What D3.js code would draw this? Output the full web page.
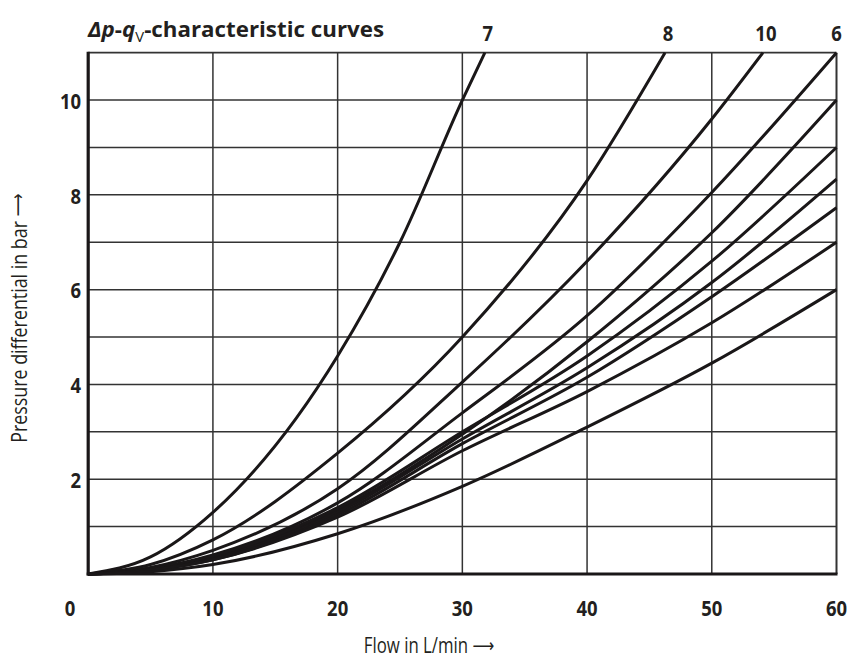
<!DOCTYPE html>
<html lang="en">
<head>
	<meta charset="UTF-8">
	<script src="https://d3js.org/d3.v7.min.js"></script>
	<title>dp-qV characteristic curves</title>
	<style>
		body { margin: 0; background: #fff; }
		svg { display: block; }
		text { fill: #231f20; }
		.tick-label { font-family: "Open Sans", sans-serif; font-weight: 700; font-size: 22px; }
		.axis-title { font-family: "Open Sans", sans-serif; font-weight: 400; font-size: 21px; }
		.arrow { font-family: "DejaVu Sans", sans-serif; font-size: 19px; }
	</style>
</head>
<body>
	<svg width="852" height="659"></svg>

	<script>
		// values: [flow L/min, pressure bar]
		const curve7 = [[0, 0], [5, 0.36], [10, 1.3], [20, 4.6], [25, 7.0], [30, 10], [31.8, 11]];
		const curve8 = [[0, 0], [5, 0.2], [10, 0.72], [20, 2.55], [30, 5.0], [40, 8.3], [46.25, 11]];
		const curve10 = [[0, 0], [5, 0.14], [10, 0.5], [20, 1.8], [30, 4.05], [40, 6.6], [50, 9.6], [54.1, 11]];
		const curve6 = [[0, 0], [5, 0.11], [10, 0.4], [20, 1.5], [30, 3.4], [40, 5.45], [50, 8.05], [60, 11]];

		// the unlabelled curves ending on the right border
		const flowSteps = [0, 5, 10, 20, 30, 40, 50, 60];
		const curveA = [0, 0.09, 0.35, 1.35, 2.95, 4.9, 7.2, 10.0];
		const curveB = [0, 0.1, 0.38, 1.4, 3.0, 4.6, 6.6, 9.0];
		const curveC = [0, 0.09, 0.33, 1.3, 2.85, 4.35, 6.15, 8.33];
		const curveD = [0, 0.08, 0.3, 1.25, 2.75, 4.15, 5.85, 7.73];
		const curveE = [0, 0.08, 0.3, 1.2, 2.6, 3.85, 5.3, 7.0];
		const curveF = [0, 0.05, 0.2, 0.85, 1.85, 3.1, 4.45, 6.0];

		const topLabels = ['7', '8', '10', '6'];
		const xTicks = [10, 20, 30, 40, 50, 60];
		const yTicks = [2, 4, 6, 8, 10];

		const svg = d3.select('svg');

		const x = d3.scaleLinear().domain([0, 60]).range([88.2, 836.5]);
		const y = d3.scaleLinear().domain([0, 11]).range([574, 52.7]);

		// grid
		const grid = svg.append('g').attr('stroke', '#333').attr('stroke-width', 1.5);
		grid.selectAll('line.v')
			.data(d3.range(10, 60, 10))
			.enter().append('line')
			.attr('x1', d => x(d)).attr('x2', d => x(d))
			.attr('y1', y(11)).attr('y2', y(0));
		grid.selectAll('line.h')
			.data(d3.range(1, 11))
			.enter().append('line')
			.attr('x1', x(0)).attr('x2', x(60))
			.attr('y1', d => y(d)).attr('y2', d => y(d));

		// frame
		svg.append('line').attr('x1', x(0)).attr('x2', x(60)).attr('y1', y(11)).attr('y2', y(11))
			.attr('stroke', '#333').attr('stroke-width', 1.8);
		svg.append('line').attr('x1', x(60)).attr('x2', x(60)).attr('y1', y(11)).attr('y2', y(0))
			.attr('stroke', '#333').attr('stroke-width', 2);

		// curves
		const line = d3.line()
			.x(d => x(d[0]))
			.y(d => y(d[1]))
			.curve(d3.curveMonotoneX);

		const right = [curveA, curveB, curveC, curveD, curveE, curveF]
			.map(vals => vals.map((v, i) => [flowSteps[i], v]));
		const labelled = [curve7, curve8, curve10, curve6];

		svg.append('g')
			.selectAll('path')
			.data(labelled.concat(right))
			.enter().append('path')
			.attr('d', line)
			.attr('fill', 'none')
			.attr('stroke', '#1a1718')
			.attr('stroke-width', 3);

		// axes lines (heavy)
		svg.append('line').attr('x1', x(0)).attr('x2', x(0)).attr('y1', y(11) - 1).attr('y2', y(0) + 1.5)
			.attr('stroke', '#1a1718').attr('stroke-width', 3.2);
		svg.append('line').attr('x1', x(0) - 1.5).attr('x2', x(60) + 1).attr('y1', y(0)).attr('y2', y(0))
			.attr('stroke', '#1a1718').attr('stroke-width', 3.2);

		// condensed bold label helper
		function label(g, px, py, txt, anchor) {
			g.append('text')
				.attr('class', 'tick-label')
				.attr('transform', `translate(${px},${py}) scale(0.84,1)`)
				.attr('text-anchor', anchor)
				.attr('dominant-baseline', 'central')
				.text(txt);
		}

		const labels = svg.append('g');
		xTicks.forEach(d => label(labels, x(d), 607, d, 'middle'));
		label(labels, 70, 607, '0', 'middle');
		yTicks.forEach(d => label(labels, 81, y(d), d, 'end'));

		// curve labels along the top
		labelled.forEach((d, i) => {
			label(labels, x(d[d.length - 1][0]) + (i === 3 ? 0 : 3), 32, topLabels[i], 'middle');
		});

		// title
		const title = svg.append('text')
			.attr('x', 88).attr('y', 37)
			.attr('textLength', 296)
			.attr('lengthAdjust', 'spacingAndGlyphs')
			.style('font-family', '"Open Sans", sans-serif')
			.style('font-weight', 700)
			.style('font-size', '21px');
		title.append('tspan').style('font-style', 'italic').text('\u0394p');
		title.append('tspan').text('-');
		title.append('tspan').style('font-style', 'italic').text('q');
		title.append('tspan').attr('dy', 5).style('font-size', '14px').style('font-weight', 400).text('V');
		title.append('tspan').attr('dy', -5).text('-characteristic curves');

		// axis titles, squeezed like a condensed face
		const xt = svg.append('text')
			.attr('class', 'axis-title')
			.attr('transform', 'translate(429,645) scale(0.8,1)')
			.attr('text-anchor', 'middle')
			.attr('dominant-baseline', 'central');
		xt.append('tspan').text('Flow in L/min ');
		xt.append('tspan').attr('class', 'arrow').text('\u27F6');

		const yt = svg.append('text')
			.attr('class', 'axis-title')
			.attr('transform', 'translate(18,318) rotate(-90) scale(0.85,1)')
			.attr('text-anchor', 'middle')
			.attr('dominant-baseline', 'central');
		yt.append('tspan').text('Pressure differential in bar ');
		yt.append('tspan').attr('class', 'arrow').text('\u27F6');
	</script>
</body>
</html>
